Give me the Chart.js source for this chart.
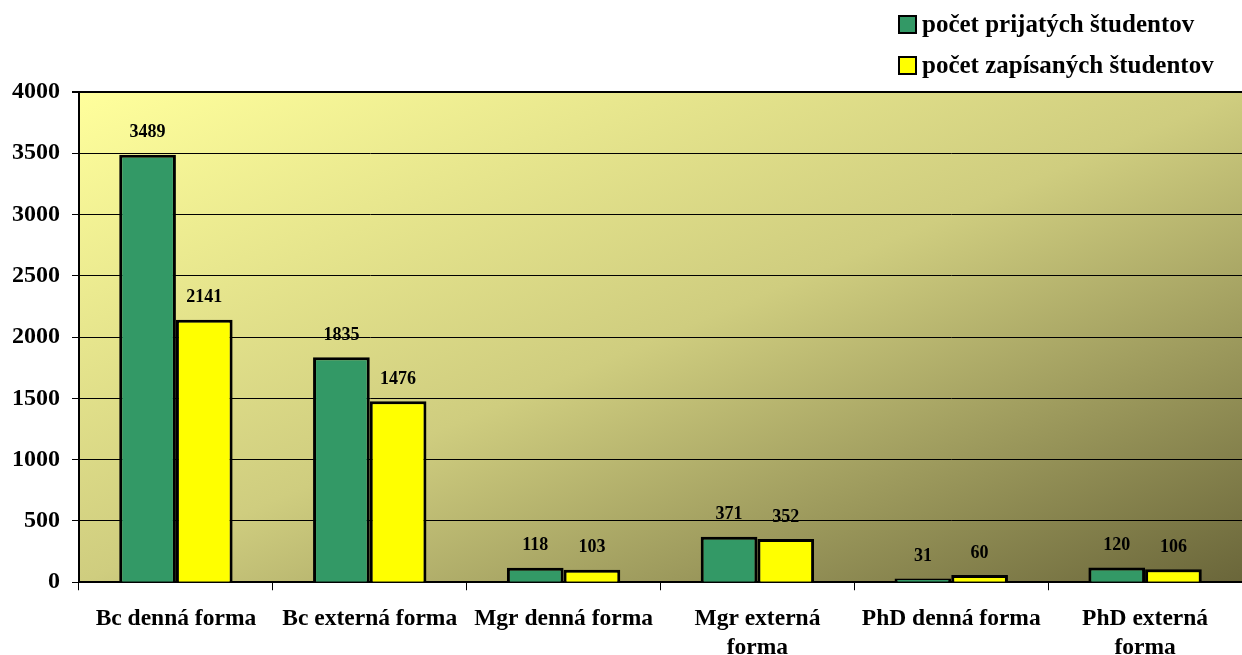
<!DOCTYPE html>
<html>
<head>
<meta charset="utf-8">
<script src="https://cdn.jsdelivr.net/npm/chart.js@4"></script>
<style>
  html, body { margin: 0; padding: 0; background: #fff; overflow: hidden; }
  #wrap { width: 1242px; height: 677px; }
</style>
</head>
<body>
<div id="wrap"><canvas id="myChart"></canvas></div>
<script>
const categories = [
    'Bc denná forma',
    'Bc externá forma',
    'Mgr denná forma',
    ['Mgr externá', 'forma'],
    'PhD denná forma',
    ['PhD externá', 'forma'],
]
const seriesNames = ['počet prijatých študentov', 'počet zapísaných študentov']
const prijati = [3489, 1835, 118, 371, 31, 120]
const zapisani = [2141, 1476, 103, 352, 60, 106]
const yTicks = [0, 500, 1000, 1500, 2000, 2500, 3000, 3500, 4000]

const serif = '"Liberation Serif", "Times New Roman", serif'

// diagonal gradient behind the plot (light yellow top-left -> olive bottom-right)
const plotBackground = {
    id: 'plotBackground',
    beforeDraw(chart) {
        const { ctx, chartArea: a } = chart
        const w = a.right - a.left, h = a.bottom - a.top
        const s = 2 * w * h / (w * w + h * h)
        const g = ctx.createLinearGradient(a.left, a.top, a.left + s * h, a.top + s * w)
        g.addColorStop(0, '#FFFF9C')
        g.addColorStop(0.5, '#CFCD7F')
        g.addColorStop(1, '#6A663A')
        ctx.save()
        ctx.fillStyle = g
        ctx.fillRect(a.left, a.top, w, h)
        ctx.restore()
    }
}

// numbers above each bar
const barValues = {
    id: 'barValues',
    afterDatasetsDraw(chart) {
        const ctx = chart.ctx
        ctx.save()
        ctx.font = 'bold 18px ' + serif
        ctx.fillStyle = '#000'
        ctx.textAlign = 'center'
        ctx.textBaseline = 'middle'
        chart.data.datasets.forEach((ds, i) => {
            chart.getDatasetMeta(i).data.forEach((bar, j) => {
                ctx.fillText(ds.data[j], bar.x, bar.y - 22)
            })
        })
        ctx.restore()
    }
}

// legend stacked in the top right corner
const cornerLegend = {
    id: 'cornerLegend',
    afterDraw(chart) {
        const ctx = chart.ctx
        ctx.save()
        ctx.font = 'bold 25px ' + serif
        ctx.textBaseline = 'middle'
        chart.data.datasets.forEach((ds, i) => {
            const y = 25 + i * 41
            ctx.fillStyle = ds.backgroundColor
            ctx.fillRect(899, y - 9, 17, 17)
            ctx.strokeStyle = '#000'
            ctx.lineWidth = 2
            ctx.strokeRect(899, y - 9, 17, 17)
            ctx.fillStyle = '#000'
            ctx.fillText(ds.label, 922, y + 1)
        })
        ctx.restore()
    }
}

const data = {
    labels: categories,
    datasets: [{
        label: seriesNames[0],
        data: prijati,
        backgroundColor: '#339966',
        borderColor: '#000',
        borderWidth: 3,
        borderSkipped: 'bottom',
    }, {
        label: seriesNames[1],
        data: zapisani,
        backgroundColor: '#FFFF00',
        borderColor: '#000',
        borderWidth: 3,
        borderSkipped: 'bottom',
    }]
}

const config = {
    type: 'bar',
    data: data,
    plugins: [plotBackground, barValues, cornerLegend],
    options: {
        responsive: true,
        maintainAspectRatio: false,
        animation: false,
        categoryPercentage: 0.585,
        barPercentage: 1,
        layout: { padding: { top: 92, right: 0, left: 0, bottom: 0 } },
        plugins: {
            legend: { display: false },
            tooltip: { enabled: false },
        },
        scales: {
            x: {
                offset: true,
                grid: {
                    offset: true,
                    drawOnChartArea: false,
                    color: '#000',
                    tickLength: 8,
                },
                border: { color: '#000', width: 2 },
                ticks: {
                    color: '#000',
                    maxRotation: 0,
                    autoSkip: false,
                    padding: 14,
                    font: { family: serif, size: 23.5, weight: 'bold', lineHeight: 1.25 },
                },
            },
            y: {
                min: 0,
                max: 4000,
                afterBuildTicks(scale) {
                    scale.ticks = yTicks.map(v => ({ value: v }))
                },
                grid: {
                    color: '#000',
                    lineWidth: ctx => ctx.tick && ctx.tick.value === 4000 ? 2 : 1,
                    tickLength: 7,
                },
                border: { color: '#000', width: 2 },
                ticks: {
                    color: '#000',
                    padding: 12,
                    font: { family: serif, size: 24, weight: 'bold' },
                    callback: v => String(v),
                },
            }
        }
    }
}

const myChart = new Chart(document.getElementById('myChart'), config)
</script>
</body>
</html>
